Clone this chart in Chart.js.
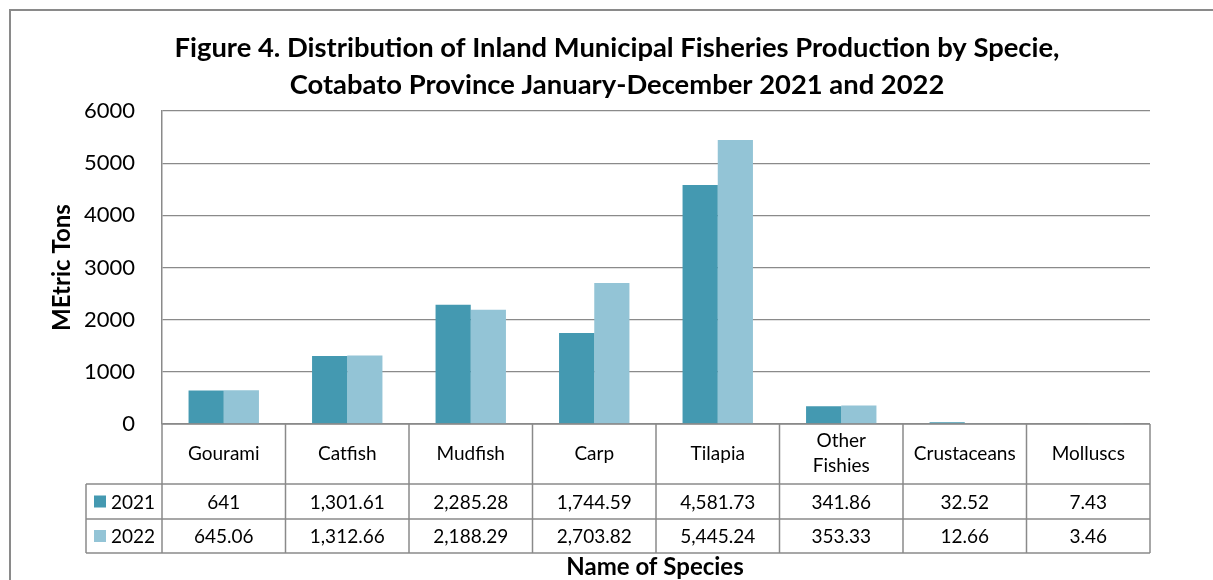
<!DOCTYPE html>
<html><head><meta charset="utf-8">
<script src="https://cdn.jsdelivr.net/npm/chart.js@4"></script>
<style>html,body{margin:0;padding:0;background:#fff}canvas{display:block}</style>
</head><body>
<canvas id="c" width="1213" height="580"></canvas>
<script>
const categories = ['Gourami','Catfish','Mudfish','Carp','Tilapia',['Other','Fishies'],'Crustaceans','Molluscs'];
const seriesNames = ['2021','2022'];
const values2021 = [641,1301.61,2285.28,1744.59,4581.73,341.86,32.52,7.43];
const values2022 = [645.06,1312.66,2188.29,2703.82,5445.24,353.33,12.66,3.46];
const colors = ['#4499B1','#93C4D6'];
const titleLines = ['Figure 4. Distribution of Inland Municipal Fisheries Production by Specie,','Cotabato Province January-December 2021 and 2022'];
const yTitle = 'MEtric Tons';
const xTitle = 'Name of Species';
const FONT = 'Lato, "Open Sans", sans-serif';
const fmt = v => v.toLocaleString('en-US',{maximumFractionDigits:2});

const tablePlugin = {
  id:'tablePlugin',
  afterDraw(chart){
    const ctx = chart.ctx, ca = chart.chartArea, xs = chart.scales.x;
    const n = categories.length, cw = (ca.right-ca.left)/n;
    const yTop = ca.bottom, yH = 484, yR1 = 519, yR2 = 553, legL = 86;
    ctx.save();
    ctx.strokeStyle = '#8a8a8a'; ctx.lineWidth = 2;
    ctx.strokeRect(10,10,1240,600);
    ctx.fillStyle = '#000'; ctx.textAlign='center'; ctx.textBaseline='middle';
    // fit title to reference width
    ctx.font = 'bold 20px '+FONT;
    const w = ctx.measureText(titleLines[0]).width;
    const fs = 20*885/w;
    ctx.font = 'bold '+fs.toFixed(2)+'px '+FONT;
    ctx.fillText(titleLines[0], 617, 48);
    ctx.fillText(titleLines[1], 617, 85);
    ctx.save(); ctx.translate(62,(ca.top+ca.bottom)/2); ctx.rotate(-Math.PI/2);
    ctx.font='bold 24px '+FONT; ctx.fillText(yTitle,0,0); ctx.restore();
    ctx.strokeStyle='#8a8a8a'; ctx.lineWidth=1.5;
    ctx.beginPath();
    ctx.moveTo(ca.left,yTop); ctx.lineTo(ca.right,yTop);
    ctx.moveTo(legL,yH); ctx.lineTo(ca.right,yH);
    ctx.moveTo(legL,yR1); ctx.lineTo(ca.right,yR1);
    ctx.moveTo(legL,yR2); ctx.lineTo(ca.right,yR2);
    ctx.moveTo(legL,yH); ctx.lineTo(legL,yR2);
    for(let i=0;i<=n;i++){ const x = ca.left+i*cw; ctx.moveTo(x,yTop); ctx.lineTo(x,yR2); }
    ctx.stroke();
    ctx.font='19px '+FONT; ctx.fillStyle='#000';
    for(let i=0;i<n;i++){
      const cx = xs.getPixelForValue(i);
      const lab = categories[i];
      if(Array.isArray(lab)){ ctx.fillText(lab[0],cx,yTop+17); ctx.fillText(lab[1],cx,yTop+42); }
      else ctx.fillText(lab,cx,(yTop+yH)/2);
    }
    const rows = [[yH,yR1],[yR1,yR2]];
    chart.data.datasets.forEach((ds,di)=>{
      const cy = (rows[di][0]+rows[di][1])/2;
      ctx.fillStyle = colors[di]; ctx.fillRect(94,cy-6,12,12);
      ctx.fillStyle='#000'; ctx.textAlign='left'; ctx.fillText(ds.label,111,cy+1);
      ctx.textAlign='center';
      ds.data.forEach((v,i)=>ctx.fillText(fmt(v), xs.getPixelForValue(i), cy+1));
    });
    ctx.font='bold 24px '+FONT;
    ctx.fillText(xTitle, 655, 567);
    ctx.restore();
  }
};

new Chart(document.getElementById('c'),{
  type:'bar',
  data:{labels:categories,datasets:[
    {label:seriesNames[0],data:values2021,backgroundColor:colors[0],categoryPercentage:0.57,barPercentage:1},
    {label:seriesNames[1],data:values2022,backgroundColor:colors[1],categoryPercentage:0.57,barPercentage:1}
  ]},
  options:{
    responsive:false,animation:false,
    layout:{padding:{top:111,right:63,left:0,bottom:0}},
    plugins:{legend:{display:false},title:{display:false},tooltip:{enabled:false}},
    scales:{
      x:{grid:{display:false},border:{display:false},ticks:{display:false},
         afterFit(s){ s.height = 580-424; }},
      y:{min:0,max:6000,ticks:{stepSize:1000,color:'#000',font:{size:22,family:FONT},padding:27,callback:v=>String(v)},
         grid:{color:'#8a8a8a',drawTicks:false,lineWidth:1.2},border:{display:true,color:'#8a8a8a',width:1.5},
         afterFit(s){ s.width = 162; }}
    }
  },
  plugins:[tablePlugin]
});
</script>
</body></html>
